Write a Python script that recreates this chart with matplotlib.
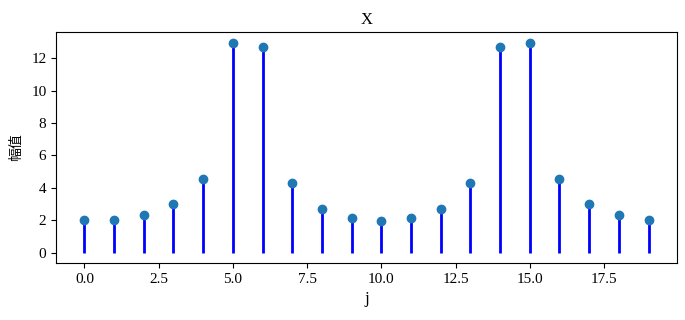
import numpy as np
import matplotlib
matplotlib.use('Agg')
import matplotlib.pyplot as plt
from matplotlib.ticker import MultipleLocator

plt.rcParams['font.family'] = ['Liberation Serif', 'Noto Sans CJK SC', 'DejaVu Sans']
plt.rcParams['axes.unicode_minus'] = False

j = np.arange(20)
amplitude = [1.98, 2.04, 2.35, 2.97, 4.57, 12.98, 12.68, 4.27, 2.66, 2.16,
             1.97, 2.16, 2.66, 4.27, 12.68, 12.98, 4.57, 2.97, 2.35, 2.04]

fig, ax = plt.subplots(figsize=(6.85, 3.2), dpi=100)
markerline, stemlines, baseline = ax.stem(j, amplitude, linefmt='b-', markerfmt='C0o', basefmt=' ')
stemlines.set_linewidth(2)
markerline.set_markersize(6)

ax.yaxis.set_major_locator(MultipleLocator(2))
ax.set_title('X', fontsize=12)
ax.set_xlabel('j', fontsize=12)
ax.set_ylabel('幅值', fontsize=10, family=['Noto Sans CJK SC', 'DejaVu Sans'], labelpad=6)
ax.tick_params(labelsize=11)

fig.subplots_adjust(left=0.082, right=0.988, top=0.9, bottom=0.178)
fig.savefig('out.png', dpi=100)
